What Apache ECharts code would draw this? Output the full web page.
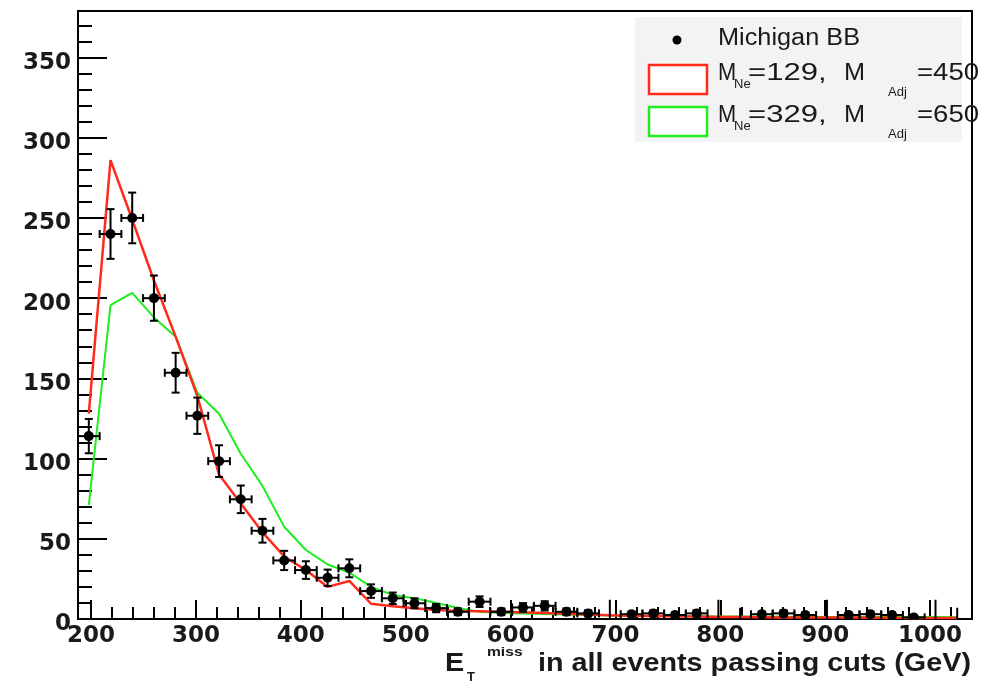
<!DOCTYPE html>
<html><head><meta charset="utf-8">
<script src="https://cdn.jsdelivr.net/npm/echarts@6/dist/echarts.min.js"></script>
<style>html,body{margin:0;padding:0;background:#fff}#c{width:998px;height:683px}</style>
</head><body><div id="c"></div>
<script>
// ---- data ----
const xCenters = [197.9, 218.6, 239.3, 260.0, 280.7, 301.4, 322.1, 342.8, 363.5, 384.2, 404.9, 425.6, 446.3, 467.0, 487.7, 508.4, 529.1, 549.8, 570.5, 591.2, 611.9, 632.6, 653.3, 674.0, 694.7, 715.4, 736.1, 756.8, 777.5, 798.2, 818.9, 839.6, 860.3, 881.0, 901.7, 922.4, 943.1, 963.8, 984.5, 1005.2, 1025.9];
const binHalfWidth = 10.35;
const dataVals = [114, 240, 250, 200, 153.5, 126.7, 98.4, 74.6, 55, 36.5, 30.5, 25.7, 31.6, 17.4, 12.9, 9.8, 6.8, 4.5, 10.8, 4.5, 7.2, 8.2, 4.5, 3.5, 0, 3, 3.5, 2.5, 3.5, 0, 0, 3, 3.5, 2.5, 0, 2.5, 3, 2.5, 1, 0, 0];
const dataErr  = [10.7, 15.5, 15.8, 14.1, 12.4, 11.3, 9.9, 8.6, 7.4, 6.0, 5.5, 5.1, 5.6, 4.2, 3.6, 3.1, 2.6, 2.1, 3.3, 2.1, 2.7, 2.9, 2.1, 1.9, 12, 1.7, 1.9, 1.6, 1.9, 12, 7, 1.7, 1.9, 1.6, 12, 1.6, 1.7, 1.6, 1, 12, 7];
const redVals  = [128, 286, 249, 211, 176, 139, 90, 72, 54, 39, 30.5, 20, 23.7, 9.5, 8, 6.7, 5.6, 5, 4.8, 4.5, 4.2, 3.8, 3.3, 2.8, 2.3, 2, 1.8, 1.6, 1.5, 1.3, 1.2, 1.1, 1, 1, 0.9, 0.9, 0.8, 0.8, 0.7, 0.7, 0.6];
const greenVals = [71, 195.6, 203.3, 188, 176, 141, 128, 103, 83, 57.5, 43, 34, 29, 20, 15, 13, 10, 6.8, 4.5, 3.8, 3.4, 3.1, 2.8, 2.5, 2.2, 2, 1.9, 1.8, 1.7, 1.6, 1.5, 1.5, 1.4, 1.4, 1.3, 1.3, 1.3, 1.2, 1.2, 1.2, 1.1];
const xMajorTicks = [200, 300, 400, 500, 600, 700, 800, 900, 1000];
const yMajorTicks = [0, 50, 100, 150, 200, 250, 300, 350];
const seriesNames = ['Michigan BB', 'M_Ne=129, M_Adj=450', 'M_Ne=329, M_Adj=650'];

// ---- layout ----
const X_MIN = 187.6, X_MAX = 1040, Y_MIN = 0, Y_MAX = 379;
const minorX = []; for (let v = 200; v <= 1020; v += 20) minorX.push(v);
const minorY = []; for (let v = 0; v <= 370; v += 10) minorY.push(v);
const RED = '#ff2a1a', GREEN = '#1eee1e';
const tickFont = {fontFamily: 'DejaVu Sans', fontWeight: 'bold', fontSize: 23, color: '#1a1a1a'};
const tickLine = {color: '#000', width: 2};

function renderItem(params, api) {
  const x = api.value(0), y = api.value(1), e = api.value(2);
  const c = api.coord([x, y]);
  const t = api.coord([x, y + e]);
  const b = api.coord([x, Math.max(0, y - e)]);
  const ls = {stroke: '#000', lineWidth: 2};
  const ch = [];
  const cap = 4;
  ch.push({type: 'line', shape: {x1: c[0], y1: t[1], x2: c[0], y2: b[1]}, style: ls});
  if (y > 0) {
    const l = api.coord([x - binHalfWidth, y]);
    const r = api.coord([x + binHalfWidth, y]);
    ch.push({type: 'line', shape: {x1: c[0] - cap, y1: t[1], x2: c[0] + cap, y2: t[1]}, style: ls});
    ch.push({type: 'line', shape: {x1: c[0] - cap, y1: b[1], x2: c[0] + cap, y2: b[1]}, style: ls});
    ch.push({type: 'line', shape: {x1: l[0], y1: c[1], x2: r[0], y2: c[1]}, style: ls});
    ch.push({type: 'line', shape: {x1: l[0], y1: c[1] - cap, x2: l[0], y2: c[1] + cap}, style: ls});
    ch.push({type: 'line', shape: {x1: r[0], y1: c[1] - cap, x2: r[0], y2: c[1] + cap}, style: ls});
    ch.push({type: 'circle', shape: {cx: c[0], cy: c[1], r: 5}, style: {fill: '#000'}});
  }
  return {type: 'group', children: ch};
}

function txt(x, y, text, font, sx, extra) {
  return Object.assign({type: 'text', x: x, y: y, scaleX: sx || 1, z: 20,
    style: {text: text, font: font, fill: '#1a1a1a', align: 'left', verticalAlign: 'middle'}}, extra || {});
}
const LF = '23px "Liberation Sans"';
const LS = '13px "Liberation Sans"';
const TF = 'bold 25px "Liberation Sans"';
const TS = 'bold 13px "Liberation Sans"';

const chart = echarts.init(document.getElementById('c'), null, {renderer: 'canvas'});
chart.setOption({
  animation: false,
  backgroundColor: '#fff',
  grid: {left: 78, right: 26, top: 11, bottom: 64, show: true, borderColor: '#000', borderWidth: 2, backgroundColor: 'transparent'},
  xAxis: [
    {type: 'value', min: X_MIN, max: X_MAX, position: 'bottom',
     axisLine: {show: true, onZero: false, lineStyle: {color: '#000', width: 2}},
     axisTick: {show: true, inside: true, length: 19, lineStyle: tickLine, customValues: xMajorTicks},
     axisLabel: Object.assign({show: true, customValues: xMajorTicks, margin: 6, formatter: v => String(v)}, tickFont),
     splitLine: {show: false}},
    {type: 'value', min: X_MIN, max: X_MAX, position: 'bottom',
     axisLine: {show: false},
     axisTick: {show: true, inside: true, length: 12, lineStyle: tickLine, customValues: minorX},
     axisLabel: {show: false}, splitLine: {show: false}}
  ],
  yAxis: [
    {type: 'value', min: Y_MIN, max: Y_MAX, position: 'left',
     axisLine: {show: true, onZero: false, lineStyle: {color: '#000', width: 2}},
     axisTick: {show: true, inside: true, length: 29, lineStyle: tickLine, customValues: yMajorTicks},
     axisLabel: Object.assign({show: true, customValues: yMajorTicks, margin: 7, verticalAlign: 'top', lineHeight: 11, formatter: v => String(v)}, tickFont),
     splitLine: {show: false}},
    {type: 'value', min: Y_MIN, max: Y_MAX, position: 'left',
     axisLine: {show: false},
     axisTick: {show: true, inside: true, length: 14, lineStyle: tickLine, customValues: minorY},
     axisLabel: {show: false}, splitLine: {show: false}}
  ],
  series: [
    {name: seriesNames[2], type: 'line', xAxisIndex: 0, yAxisIndex: 0, symbol: 'none', z: 2,
     lineStyle: {color: GREEN, width: 2}, data: xCenters.map((x, i) => [x, greenVals[i]])},
    {name: seriesNames[1], type: 'line', xAxisIndex: 0, yAxisIndex: 0, symbol: 'none', z: 3,
     lineStyle: {color: RED, width: 2.5}, data: xCenters.map((x, i) => [x, redVals[i]])},
    {name: seriesNames[0], type: 'custom', xAxisIndex: 0, yAxisIndex: 0, z: 4, clip: true,
     renderItem: renderItem, encode: {x: 0, y: 1},
     data: xCenters.map((x, i) => [x, dataVals[i], dataErr[i]])}
  ],
  graphic: [
    {type: 'rect', z: 15, shape: {x: 635, y: 17, width: 327, height: 125}, style: {fill: '#f3f3f3'}},
    {type: 'circle', z: 16, shape: {cx: 677, cy: 40, r: 4.5}, style: {fill: '#000'}},
    txt(718, 38.5, 'Michigan BB', LF, 1.1),
    {type: 'rect', z: 16, shape: {x: 649, y: 65, width: 58, height: 29}, style: {fill: '#fff', stroke: RED, lineWidth: 2.5}},
    txt(718, 73.3, 'M', LF, 0.95),
    txt(734, 84, 'Ne', LS, 1),
    txt(748, 73.3, '=129,', LF, 1.35),
    txt(844, 73.3, 'M', LF, 1.1),
    txt(888, 92.5, 'Adj', LS, 1),
    txt(917, 73.3, '=450', LF, 1.2),
    {type: 'rect', z: 16, shape: {x: 649, y: 107, width: 58, height: 29}, style: {fill: '#fff', stroke: GREEN, lineWidth: 2.5}},
    txt(718, 115.3, 'M', LF, 0.95),
    txt(734, 126, 'Ne', LS, 1),
    txt(748, 115.3, '=329,', LF, 1.35),
    txt(844, 115.3, 'M', LF, 1.1),
    txt(888, 134.5, 'Adj', LS, 1),
    txt(917, 115.3, '=650', LF, 1.2),
    // axis title
    txt(445, 664, 'E', TF, 1.15),
    txt(467, 677, 'T', TS, 1),
    txt(487, 652.5, 'miss', TS, 1.2),
    txt(538, 664, 'in all events passing cuts (GeV)', TF, 1.15)
  ]
});
</script></body></html>
